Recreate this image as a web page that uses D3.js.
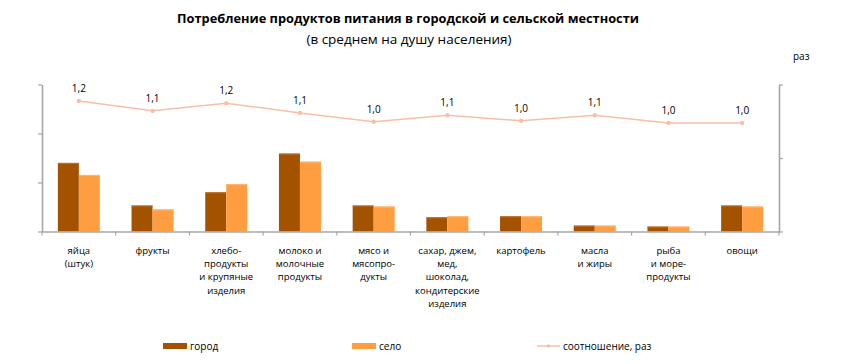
<!DOCTYPE html>
<html><head><meta charset="utf-8">
<script src="https://cdn.jsdelivr.net/npm/d3@7/dist/d3.min.js"></script>
<style>body{margin:0;background:#fff}svg{display:block}text{font-family:"Open Sans","Noto Sans",sans-serif}</style>
</head><body><svg id="c" width="843" height="364"></svg>
<script>
const categories = [
  ["яйца","(штук)"],
  ["фрукты"],
  ["хлебо-","продукты","и крупяные","изделия"],
  ["молоко и","молочные","продукты"],
  ["мясо и","мясопро-","дукты"],
  ["сахар, джем,","мед,","шоколад,","кондитерские","изделия"],
  ["картофель"],
  ["масла","и жиры"],
  ["рыба","и море-","продукты"],
  ["овощи"]
];
const city    = [280, 106, 160, 318, 106, 58, 62, 24, 20, 106];
const village = [231,  90, 194, 285, 102, 62, 62, 24, 20, 102];
const ratio   = [1.19, 1.10, 1.17, 1.08, 1.00, 1.06, 1.01, 1.06, 0.99, 0.99];
const leftTicks = [0, 200, 400, 600];
const rightTicks = [0, 0.67, 1.34];
const seriesNames = ["город", "село", "соотношение, раз"];

const svg = d3.select("#c");
const L = 42, R = 779, T = 84.5, B = 231.5;
const x = d3.scaleBand().domain(d3.range(categories.length)).range([L, R]);
const x1 = d3.scaleBand().domain([0,1]).range([0, 42]);
const y = d3.scaleLinear().domain([0, 600]).range([B, T]);
const y2 = d3.scaleLinear().domain([0, 1.34]).range([B, T]);
const cCity = "#A35200", cVil = "#FF9E40", cLine = "#F9BFA6", axisC = "#A6A6A6";

// title
svg.append("text").attr("x", 408).attr("y", 23).attr("text-anchor","middle")
  .style("font-size","12.8px").style("font-weight","bold").attr("fill","#000")
  .text("Потребление продуктов питания в городской и сельской местности");
svg.append("text").attr("x", 409).attr("y", 44).attr("text-anchor","middle")
  .style("font-size","13.5px").attr("fill","#000").text("(в среднем на душу населения)");
svg.append("text").attr("x", 793).attr("y", 60).style("font-size","10px").attr("fill","#000").text("раз");

// bars
const g = svg.append("g");
categories.forEach((c, i) => {
  const x0 = x(i) + (x.bandwidth() - 42) / 2;
  [[city[i], cCity, "#C07030"], [village[i], cVil, "#FFB870"]].forEach((d, j) => {
    g.append("rect").attr("x", x0 + x1(j)).attr("y", y(d[0]))
      .attr("width", x1.bandwidth()).attr("height", B - y(d[0]))
      .attr("fill", d[1]);
    g.append("line").attr("x1", x0 + x1(j)).attr("x2", x0 + x1(j) + x1.bandwidth())
      .attr("y1", y(d[0]) + 0.5).attr("y2", y(d[0]) + 0.5).attr("stroke", d[2]).attr("stroke-width", 1);
  });
});

// axes
const axL = svg.append("g").attr("transform", `translate(${L},0)`)
  .call(d3.axisLeft(y).tickValues(leftTicks).tickFormat("").tickSize(4).tickSizeOuter(0));
const axR = svg.append("g").attr("transform", `translate(${R},0)`)
  .call(d3.axisRight(y2).tickValues(rightTicks).tickFormat("").tickSize(4).tickSizeOuter(0));
const axB = svg.append("g").attr("transform", `translate(0,${B})`)
  .call(d3.axisBottom(x).tickValues([]).tickSizeOuter(0));
const bounds = d3.range(categories.length + 1).map(i => L + i * x.step());
axB.selectAll("line.b").data(bounds).enter().append("line").attr("class","b")
  .attr("x1", d => d).attr("x2", d => d).attr("y1", 0).attr("y2", 4);
[axL, axR, axB].forEach(a => {
  a.selectAll("path.domain").attr("stroke", axisC).attr("stroke-width", 1.6);
  a.selectAll("line").attr("stroke", axisC).attr("stroke-width", 1.2);
});

// ratio line
const line = d3.line().x((d, i) => x(i) + x.bandwidth() / 2).y(d => y2(d));
svg.append("path").datum(ratio).attr("d", line).attr("fill","none")
  .attr("stroke", cLine).attr("stroke-width", 1.5);
svg.selectAll("circle.pt").data(ratio).enter().append("circle").attr("class","pt")
  .attr("cx", (d, i) => x(i) + x.bandwidth() / 2).attr("cy", d => y2(d)).attr("r", 2.2).attr("fill", cLine);
const fmt = d => d3.format(".1f")(d).replace(".", ",");
svg.selectAll("text.lbl").data(ratio).enter().append("text").attr("class","lbl")
  .attr("x", (d, i) => x(i) + x.bandwidth() / 2).attr("y", d => y2(d) - 9)
  .attr("text-anchor","middle").style("font-size","10px").attr("fill","#000").text(fmt);

// category labels
categories.forEach((c, i) => {
  const t = svg.append("text").attr("x", x(i) + x.bandwidth() / 2).attr("y", 254)
    .attr("text-anchor","middle").style("font-size","9.5px").attr("fill","#000");
  c.forEach((s, k) => t.append("tspan").attr("x", x(i) + x.bandwidth() / 2).attr("dy", k ? 13.2 : 0).text(s));
});

// legend
const ly = 346;
svg.append("rect").attr("x", 163).attr("y", ly - 3).attr("width", 24).attr("height", 6).attr("fill", cCity);
svg.append("text").attr("x", 190).attr("y", ly + 4).style("font-size","10px").text(seriesNames[0]);
svg.append("rect").attr("x", 352).attr("y", ly - 3).attr("width", 24).attr("height", 6).attr("fill", cVil);
svg.append("text").attr("x", 379).attr("y", ly + 4).style("font-size","10px").text(seriesNames[1]);
svg.append("line").attr("x1", 537).attr("x2", 560).attr("y1", ly).attr("y2", ly).attr("stroke", cLine).attr("stroke-width", 1.5);
svg.append("circle").attr("cx", 548.5).attr("cy", ly).attr("r", 1.8).attr("fill", cLine);
svg.append("text").attr("x", 563).attr("y", ly + 4).style("font-size","10px").text(seriesNames[2]);
</script></body></html>
